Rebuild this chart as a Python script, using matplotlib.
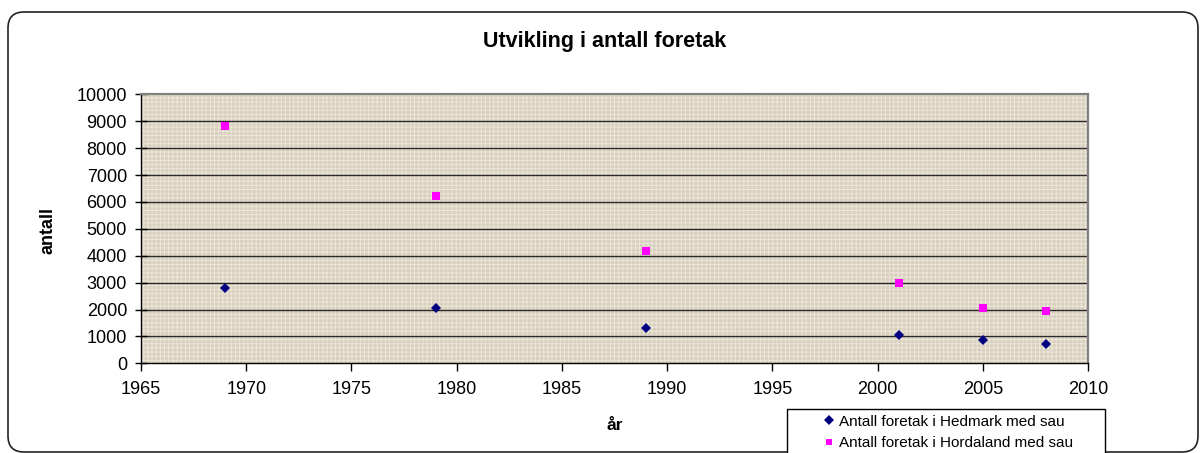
import matplotlib
matplotlib.use("Agg")
import matplotlib.pyplot as plt
from matplotlib.patches import FancyBboxPatch, Rectangle
from matplotlib.lines import Line2D

plt.rcParams['font.family'] = ['Liberation Sans', 'DejaVu Sans']
plt.rcParams['hatch.linewidth'] = 0.7

# data
years = [1969, 1979, 1989, 2001, 2005, 2008]
hedmark = [2790, 2045, 1310, 1040, 865, 730]
hordaland = [8830, 6220, 4175, 2975, 2065, 1935]

title = "Utvikling i antall foretak"
xlabel = "år"
ylabel = "antall"
label_hedmark = "Antall foretak i Hedmark med sau"
label_hordaland = "Antall foretak i Hordaland med sau"


def main():
    W, H = 1200, 453
    fig = plt.figure(figsize=(W / 100, H / 100), dpi=100)

    # rounded outer frame (drawn in inches so corners stay round)
    frame = FancyBboxPatch((0.08, 0.01), 11.90, 4.40,
                           boxstyle="round,pad=0,rounding_size=0.16",
                           transform=fig.dpi_scale_trans,
                           facecolor="white", edgecolor="#222222",
                           linewidth=1.2, zorder=-5)
    fig.patches.append(frame)

    ax = fig.add_axes([141 / W, 1 - 363.3 / H, (1088 - 141) / W, (363.3 - 94.3) / H])
    ax.set_zorder(1)
    ax.set_facecolor("#d8cfbd")
    # light crosshatch to imitate the canvas texture
    ax.add_patch(Rectangle((0, 0), 1, 1, transform=ax.transAxes,
                           facecolor="none", edgecolor="#ece6da",
                           hatch="++++", linewidth=0, zorder=0.5))

    ax.set_xlim(1965, 2010)
    ax.set_ylim(0, 10000)
    ax.set_xticks(range(1965, 2011, 5))
    ax.set_yticks(range(0, 10001, 1000))

    for v in range(1000, 10000, 1000):
        ax.axhline(v, color="#2a2a2a", linewidth=1.0, zorder=1)

    ax.plot(years, hedmark, linestyle="none", marker="D", markersize=5.5,
            color="#000080", markeredgewidth=0, zorder=3, label=label_hedmark)
    ax.plot(years, hordaland, linestyle="none", marker="s", markersize=5.5,
            color="#ff00ff", markeredgewidth=0, zorder=3, label=label_hordaland)

    for s in ["top", "right"]:
        ax.spines[s].set_color("#808080")
        ax.spines[s].set_linewidth(1.6)
    for s in ["left", "bottom"]:
        ax.spines[s].set_color("black")
        ax.spines[s].set_linewidth(1.0)

    ax.tick_params(axis="y", direction="inout", length=8, width=1,
                   labelsize=13, pad=6)
    ax.tick_params(axis="x", direction="out", length=6, width=1,
                   labelsize=13, pad=7)

    fig.text(605 / W, 1 - 42 / H, title, ha="center", va="center",
             fontsize=15.5, fontweight="bold")
    fig.text(48 / W, 1 - 230 / H, ylabel, ha="center", va="center",
             rotation=90, fontsize=13, fontweight="bold")
    fig.text(615 / W, 1 - 425 / H, xlabel, ha="center", va="center",
             fontsize=12.5, fontweight="bold")

    # legend box (runs off the bottom of the image like the reference)
    fig.patches.append(Rectangle((787 / W, -20 / H), (1105 - 787) / W, (44 + 20) / H,
                                 transform=fig.transFigure, facecolor="white",
                                 edgecolor="black", linewidth=1.0, zorder=2))
    handles = [Line2D([], [], linestyle="none", marker="D", markersize=4.8,
                      color="#000080", markeredgewidth=0),
               Line2D([], [], linestyle="none", marker="s", markersize=4.8,
                      color="#ff00ff", markeredgewidth=0)]
    leg = fig.legend(handles, [label_hedmark, label_hordaland],
                     loc="upper left", bbox_to_anchor=(818 / W, 1 - 410 / H),
                     frameon=False, fontsize=11, handlelength=0.8,
                     handletextpad=0.3, borderpad=0.3, labelspacing=0.5,
                     borderaxespad=0)
    leg.set_zorder(3)

    fig.savefig("out.png", dpi=100)


if __name__ == "__main__":
    main()
